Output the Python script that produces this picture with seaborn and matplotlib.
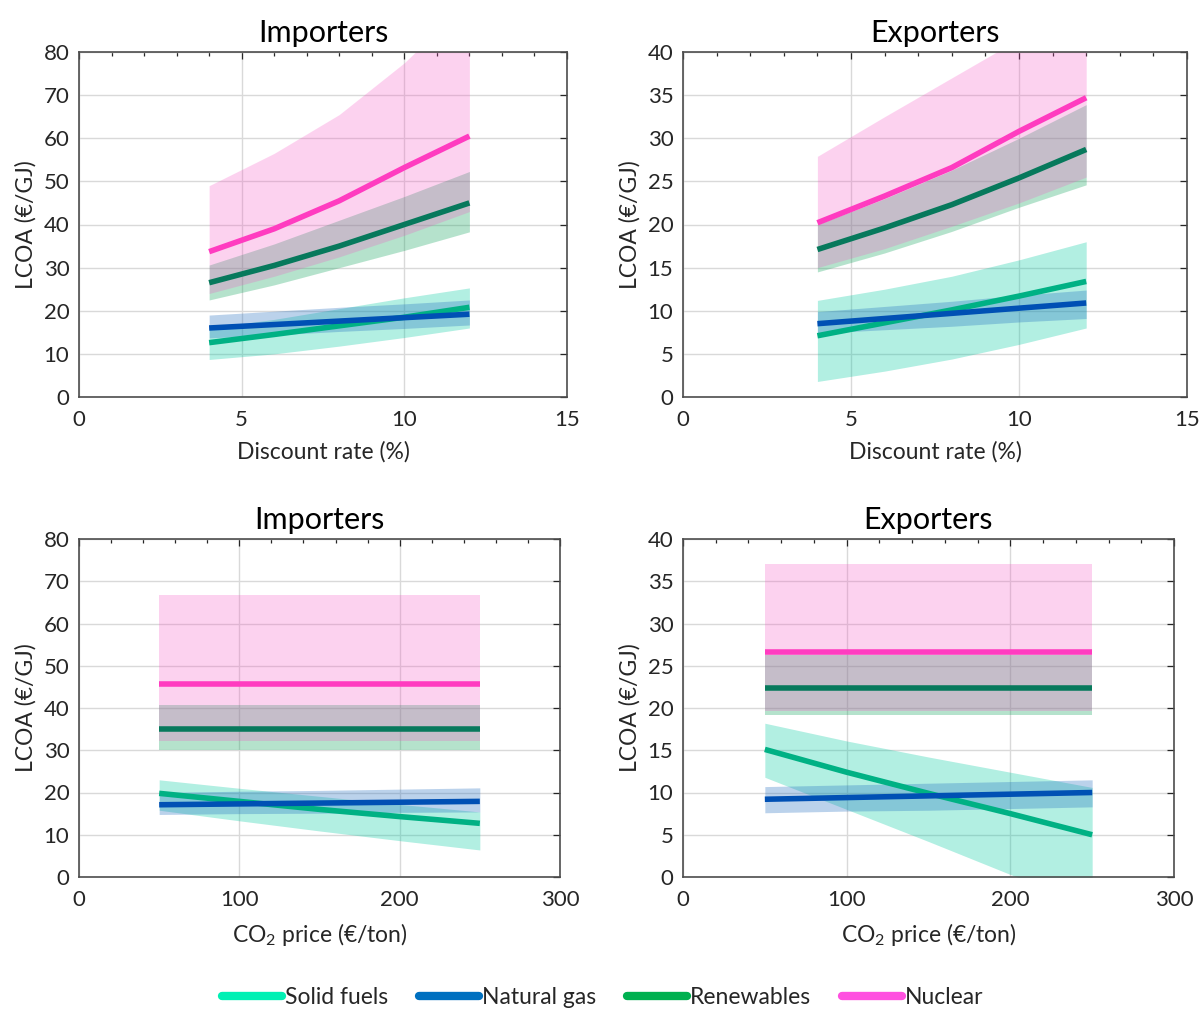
import numpy as np
import pandas as pd
import matplotlib
matplotlib.use("Agg")
import matplotlib.pyplot as plt
from matplotlib.lines import Line2D
import seaborn as sns

# ---------------- data ----------------
techs = ["Solid fuels", "Natural gas", "Renewables", "Nuclear"]

# Discount rate (%) panels
dr = [4, 6, 8, 10, 12]
imp_dr_mid = {
    "Solid fuels": [12.6, 14.5, 16.5, 18.5, 20.8],
    "Natural gas": [16.0, 16.8, 17.6, 18.4, 19.2],
    "Renewables": [26.5, 30.5, 35.0, 40.0, 45.0],
    "Nuclear": [33.7, 39.0, 45.5, 53.2, 60.5],
}
imp_dr_low = {
    "Solid fuels": [8.7, 10.0, 11.8, 13.8, 16.0],
    "Natural gas": [13.7, 14.4, 15.2, 15.9, 16.7],
    "Renewables": [22.5, 26.0, 30.0, 34.0, 38.3],
    "Nuclear": [24.0, 28.0, 32.5, 37.5, 43.0],
}
imp_dr_high = {
    "Solid fuels": [16.0, 18.0, 20.5, 23.0, 25.3],
    "Natural gas": [19.0, 19.9, 20.8, 21.6, 22.5],
    "Renewables": [30.6, 35.5, 41.0, 46.5, 52.3],
    "Nuclear": [49.0, 56.5, 65.5, 77.5, 92.0],
}
exp_dr_mid = {
    "Solid fuels": [7.1, 8.6, 10.1, 11.7, 13.4],
    "Natural gas": [8.5, 9.1, 9.7, 10.3, 10.9],
    "Renewables": [17.1, 19.6, 22.3, 25.4, 28.7],
    "Nuclear": [20.2, 23.3, 26.6, 30.8, 34.7],
}
exp_dr_low = {
    "Solid fuels": [1.8, 3.0, 4.4, 6.1, 8.0],
    "Natural gas": [7.4, 7.8, 8.2, 8.7, 9.1],
    "Renewables": [14.5, 16.7, 19.2, 22.0, 24.6],
    "Nuclear": [15.0, 17.2, 19.8, 22.5, 25.5],
}
exp_dr_high = {
    "Solid fuels": [11.2, 12.5, 14.0, 15.9, 18.0],
    "Natural gas": [9.9, 10.5, 11.1, 11.8, 12.4],
    "Renewables": [20.0, 23.0, 26.3, 30.0, 33.9],
    "Nuclear": [27.9, 32.5, 37.0, 41.5, 46.0],
}

# CO2 price (EUR/ton) panels
co2 = [50, 100, 150, 200, 250]
imp_co2_mid = {
    "Solid fuels": [19.8, 17.9, 16.0, 14.3, 12.7],
    "Natural gas": [17.1, 17.3, 17.5, 17.7, 17.9],
    "Renewables": [35.0, 35.0, 35.0, 35.0, 35.0],
    "Nuclear": [45.6, 45.6, 45.6, 45.6, 45.6],
}
imp_co2_low = {
    "Solid fuels": [15.8, 13.3, 10.9, 8.6, 6.4],
    "Natural gas": [14.8, 15.0, 15.1, 15.3, 15.4],
    "Renewables": [30.0, 30.0, 30.0, 30.0, 30.0],
    "Nuclear": [32.3, 32.3, 32.3, 32.3, 32.3],
}
imp_co2_high = {
    "Solid fuels": [23.0, 21.0, 19.1, 17.2, 15.4],
    "Natural gas": [20.0, 20.3, 20.5, 20.8, 21.1],
    "Renewables": [40.7, 40.7, 40.7, 40.7, 40.7],
    "Nuclear": [66.8, 66.8, 66.8, 66.8, 66.8],
}
exp_co2_mid = {
    "Solid fuels": [15.1, 12.4, 9.9, 7.5, 5.0],
    "Natural gas": [9.2, 9.4, 9.6, 9.8, 10.0],
    "Renewables": [22.4, 22.4, 22.4, 22.4, 22.4],
    "Nuclear": [26.6, 26.6, 26.6, 26.6, 26.6],
}
exp_co2_low = {
    "Solid fuels": [11.8, 8.0, 4.2, 0.3, -3.5],
    "Natural gas": [7.6, 7.8, 7.9, 8.1, 8.3],
    "Renewables": [19.2, 19.2, 19.2, 19.2, 19.2],
    "Nuclear": [19.7, 19.7, 19.7, 19.7, 19.7],
}
exp_co2_high = {
    "Solid fuels": [18.2, 16.1, 14.2, 12.4, 10.6],
    "Natural gas": [10.7, 10.9, 11.1, 11.3, 11.5],
    "Renewables": [26.3, 26.3, 26.3, 26.3, 26.3],
    "Nuclear": [37.1, 37.1, 37.1, 37.1, 37.1],
}

# ---------------- style ----------------
sns.set_theme(style="white")
plt.rcParams["font.family"] = ["Lato", "DejaVu Sans"]
plt.rcParams["mathtext.fontset"] = "custom"
plt.rcParams["mathtext.rm"] = "Lato"
plt.rcParams["mathtext.it"] = "Lato"

legend_colors = {"Solid fuels": "#00f0b4", "Natural gas": "#0070c0",
                 "Renewables": "#00b050", "Nuclear": "#ff50e0"}
line_colors = {"Solid fuels": "#00b184", "Natural gas": "#0050b4",
               "Renewables": "#07795c", "Nuclear": "#ff3cc0"}
fill_colors = {"Solid fuels": ("#00caa2", 0.30), "Natural gas": ("#206cc0", 0.30),
               "Renewables": ("#0ca258", 0.30), "Nuclear": ("#f74fc3", 0.25)}
fill_order = ["Renewables", "Nuclear", "Solid fuels", "Natural gas"]

dark = "#262626"

fig = plt.figure(figsize=(12.01, 10.11), dpi=100)
W, H = 1201, 1011


def axes_px(l, r, t, b):
    return fig.add_axes([l / W, (H - b) / H, (r - l) / W, (b - t) / H])


panels = [
    (axes_px(79, 567, 52, 397), dr, imp_dr_mid, imp_dr_low, imp_dr_high,
     "Importers", "Discount rate (%)", (0, 15), (0, 80), 5, 1, 10),
    (axes_px(683, 1187, 52, 397), dr, exp_dr_mid, exp_dr_low, exp_dr_high,
     "Exporters", "Discount rate (%)", (0, 15), (0, 40), 5, 1, 5),
    (axes_px(79, 560, 539, 877), co2, imp_co2_mid, imp_co2_low, imp_co2_high,
     "Importers", "CO$_2$ price (€/ton)", (0, 300), (0, 80), 100, 20, 10),
    (axes_px(683, 1174, 539, 877), co2, exp_co2_mid, exp_co2_low, exp_co2_high,
     "Exporters", "CO$_2$ price (€/ton)", (0, 300), (0, 40), 100, 20, 5),
]

for ax, xs, mid, low, high, title, xlabel, xlim, ylim, xmaj, xmin, ymaj in panels:
    ax.set_axisbelow(True)
    ax.grid(True, color="#d9d9d9", linewidth=1.0)
    for t in fill_order:
        c, a = fill_colors[t]
        ax.fill_between(xs, low[t], high[t], color=c, alpha=a, linewidth=0)
    rows = []
    for t in techs:
        for x, y in zip(xs, mid[t]):
            rows.append({"x": x, "y": y, "tech": t})
    df = pd.DataFrame(rows)
    sns.lineplot(data=df, x="x", y="y", hue="tech", hue_order=techs,
                 palette=line_colors, linewidth=4, ax=ax, legend=False,
                 solid_capstyle="butt")
    ax.set_xlim(*xlim)
    ax.set_ylim(*ylim)
    ax.set_xticks(np.arange(xlim[0], xlim[1] + 0.001, xmaj))
    ax.set_xticks(np.arange(xlim[0], xlim[1] + 0.001, xmin), minor=True)
    ax.set_yticks(np.arange(ylim[0], ylim[1] + 0.001, ymaj))
    ax.tick_params(axis="both", which="both", direction="in", top=True, right=True,
                   colors=dark, labelcolor=dark, labelsize=16)
    ax.tick_params(axis="x", which="major", pad=9)
    ax.tick_params(axis="y", which="major", pad=7)
    ax.tick_params(which="major", length=5, width=0.9)
    ax.tick_params(which="minor", length=3, width=0.9)
    for s in ax.spines.values():
        s.set_color("#4d4d4d")
        s.set_linewidth(1.2)
    ax.set_title(title, fontsize=22, color="black", pad=7)
    ax.set_xlabel(xlabel, fontsize=16.5, color=dark, labelpad=8)
    ax.set_ylabel("LCOA (€/GJ)", fontsize=16.5, color=dark, labelpad=5)

handles = [Line2D([0], [0], color=legend_colors[t], linewidth=6,
                  solid_capstyle="round") for t in techs]
fig.legend(handles, techs, loc="center", bbox_to_anchor=(0.502, 1 - 998 / H),
           ncol=4, frameon=False, fontsize=16.5, handlelength=2.6,
           handletextpad=0.15, columnspacing=1.35, labelcolor=dark)

fig.savefig("out.png", dpi=100, facecolor="white")
